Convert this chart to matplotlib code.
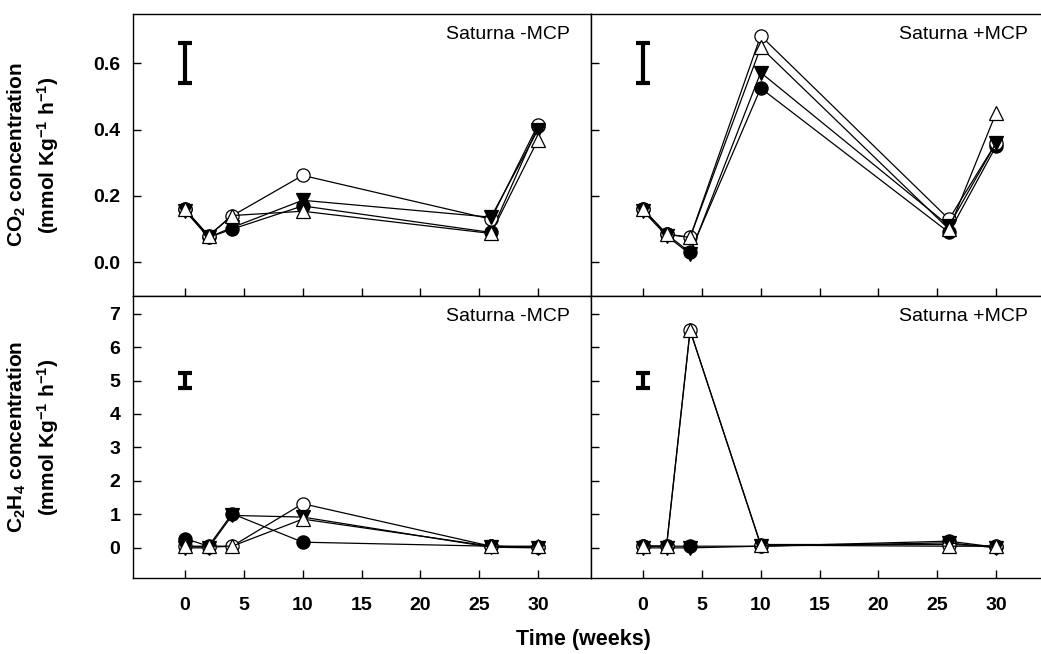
import numpy as np
import matplotlib
matplotlib.use("Agg")
from matplotlib import pyplot as plt

plt.rcParams['font.family'] = ['Liberation Sans', 'DejaVu Sans']
plt.rcParams['mathtext.fontset'] = 'custom'
plt.rcParams['mathtext.rm'] = 'Liberation Sans:bold'
plt.rcParams['mathtext.bf'] = 'Liberation Sans:bold'
plt.rcParams['mathtext.default'] = 'bf'

weeks = [0, 2, 4, 10, 26, 30]

# CO2 production, untreated fruit
co2_minus = {
    'open_circle': [0.16, 0.08, 0.14, 0.262, 0.13, 0.415],
    'filled_circle': [0.16, 0.075, 0.10, 0.17, 0.09, 0.41],
    'down_tri': [0.155, 0.075, 0.105, 0.187, 0.136, 0.40],
    'up_tri': [0.16, 0.08, 0.141, 0.154, 0.087, 0.37],
}
# CO2 production, 1-MCP treated fruit
co2_plus = {
    'open_circle': [0.16, 0.085, 0.075, 0.683, 0.13, 0.36],
    'filled_circle': [0.16, 0.085, 0.03, 0.525, 0.09, 0.35],
    'down_tri': [0.155, 0.08, 0.025, 0.572, 0.11, 0.36],
    'up_tri': [0.16, 0.085, 0.075, 0.648, 0.10, 0.45],
}
# ethylene production, untreated fruit
c2h4_minus = {
    'open_circle': [0.05, 0.02, 0.05, 1.32, 0.05, 0.02],
    'filled_circle': [0.28, 0.05, 1.02, 0.17, 0.05, 0.02],
    'down_tri': [0.0, 0.0, 0.97, 0.92, 0.02, 0.0],
    'up_tri': [0.05, 0.05, 0.05, 0.86, 0.05, 0.05],
}
# ethylene production, 1-MCP treated fruit
c2h4_plus = {
    'open_circle': [0.05, 0.05, 6.5, 0.1, 0.1, 0.05],
    'filled_circle': [0.05, 0.05, 0.05, 0.05, 0.2, 0.02],
    'down_tri': [0.0, 0.0, 0.0, 0.05, 0.15, 0.0],
    'up_tri': [0.05, 0.05, 6.5, 0.08, 0.05, 0.05],
}

# LSD bars (centre, half length)
co2_lsd = (0.6, 0.06)
c2h4_lsd = (5.0, 0.23)

styles = {
    'filled_circle': dict(marker='o', mfc='black', ms=9.5),
    'open_circle': dict(marker='o', mfc='white', ms=9.5),
    'down_tri': dict(marker='v', mfc='black', ms=10.5),
    'up_tri': dict(marker='^', mfc='white', ms=10.5),
}
order = ['filled_circle', 'open_circle', 'down_tri', 'up_tri']

W, H = 1041, 654
fig = plt.figure(figsize=(W / 100, H / 100), dpi=100)

left = 133 / W
pw = 458 / W
top_b = 1 - 295.5 / H
top_h = 282 / H
bot_b = 1 - 578 / H
bot_h = 282.5 / H

xlim = (-4.42, 34.5)

panels = [
    (left, top_b, top_h, co2_minus, co2_lsd, (-0.1, 0.75), 'Saturna -MCP'),
    (left + pw, top_b, top_h, co2_plus, co2_lsd, (-0.1, 0.75), 'Saturna +MCP'),
    (left, bot_b, bot_h, c2h4_minus, c2h4_lsd, (-0.9, 7.54), 'Saturna -MCP'),
    (left + pw, bot_b, bot_h, c2h4_plus, c2h4_lsd, (-0.9, 7.54), 'Saturna +MCP'),
]

for i, (x0, y0, h, data, lsd, ylim, title) in enumerate(panels):
    ax = fig.add_axes([x0, y0, pw, h])
    for key in order:
        ax.plot(weeks, data[key], color='black', lw=0.9, mec='black', mew=0.9,
                **styles[key], zorder=3)
    ax.errorbar([0], [lsd[0]], yerr=[lsd[1]], color='black', elinewidth=3,
                capsize=4.7, capthick=3, zorder=4)
    ax.set_xlim(*xlim)
    ax.set_ylim(*ylim)
    ax.text(32.7, ylim[0] + (ylim[1] - ylim[0]) * 0.925, title,
            ha='right', va='center', fontsize=14)
    ax.set_xticks([0, 5, 10, 15, 20, 25, 30])
    if ylim[1] < 1:
        ax.set_yticks([0.0, 0.2, 0.4, 0.6])
    else:
        ax.set_yticks(range(0, 8))
    ax.tick_params(direction='in', length=6, width=1, top=False, right=False,
                   labelsize=14)
    ax.tick_params(axis='y', pad=9)
    ax.tick_params(axis='x', pad=14)
    for lab in ax.get_xticklabels() + ax.get_yticklabels():
        lab.set_fontweight('bold')
    if i < 2:
        ax.tick_params(labelbottom=False)
    if i % 2 == 1:
        ax.tick_params(labelleft=False)
    if ylim[1] < 1:
        ax.yaxis.set_major_formatter(matplotlib.ticker.FormatStrFormatter('%.1f'))
    for s in ax.spines.values():
        s.set_linewidth(1)

fig.text(33 / W, 1 - 155 / H,
         'CO$_2$ concentration\n(mmol Kg$^{-1}$ h$^{-1}$)',
         rotation=90, ha='center', va='center', fontsize=15, fontweight='bold',
         multialignment='center', linespacing=1.35)
fig.text(33 / W, 1 - 437 / H,
         'C$_2$H$_4$ concentration\n(mmol Kg$^{-1}$ h$^{-1}$)',
         rotation=90, ha='center', va='center', fontsize=15, fontweight='bold',
         multialignment='center', linespacing=1.35)
fig.text(583 / W, 1 - 640 / H, 'Time (weeks)', ha='center', va='center',
         fontsize=15.5, fontweight='bold')

fig.savefig('out.png', dpi=100)
